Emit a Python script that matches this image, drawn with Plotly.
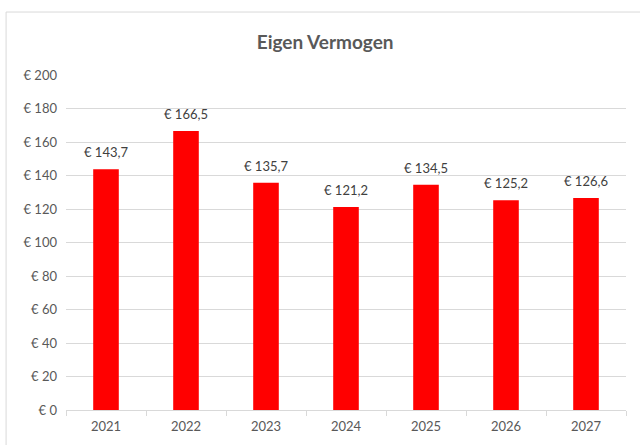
import plotly.graph_objects as go

years = ["2021", "2022", "2023", "2024", "2025", "2026", "2027"]
values = [143.7, 166.5, 135.7, 121.2, 134.5, 125.2, 126.6]
title_text = "Eigen Vermogen"

fig = go.Figure(go.Bar(
    x=years, y=values, width=0.32,
    marker=dict(color="#FF0000", line=dict(width=0)),
    hoverinfo="x+y",
))

# category axis: annotations use the category index
for i, v in enumerate(values):
    fig.add_annotation(x=i, y=v, text="€ " + f"{v:.1f}".replace(".", ","),
                       showarrow=False, yanchor="bottom", yshift=7,
                       font=dict(size=13, color="#404040"))

fig.update_layout(
    width=640, height=445,
    margin=dict(l=66, r=14, t=75, b=35),
    paper_bgcolor="white", plot_bgcolor="white",
    separators=", ",
    font=dict(family="Lato, Open Sans, sans-serif", size=13, color="#595959"),
    title=dict(text="<b>" + title_text + "</b>", x=0.508, xanchor="center",
               y=0.905, yanchor="middle", font=dict(size=19, color="#595959")),
    showlegend=False,
)
fig.update_yaxes(range=[0, 200], dtick=20, tickprefix="€ ", showgrid=True,
                 gridcolor="#D9D9D9", gridwidth=1, zeroline=False,
                 showline=False, ticks="", ticklabelstandoff=8)
fig.update_xaxes(type="category", range=[-0.5, len(years) - 0.5],
                 showline=True, linecolor="#D9D9D9", linewidth=1,
                 ticks="outside", tickson="boundaries", ticklen=5,
                 tickcolor="#D9D9D9", showgrid=False, ticklabelstandoff=4,
                 tickangle=0)
fig.add_shape(type="rect", xref="paper", yref="paper",
              x0=-0.107, x1=1.5, y0=-0.5, y1=1.188,
              line=dict(color="#D9D9D9", width=1), layer="below")

fig.write_html("out.html", config={"displayModeBar": False},
               post_script="document.body.style.margin='0';")
